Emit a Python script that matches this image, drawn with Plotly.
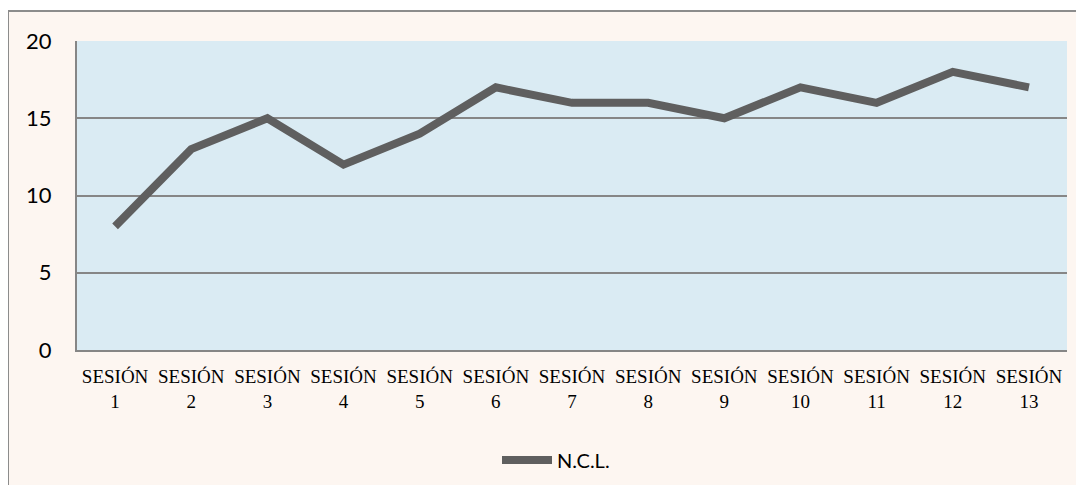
import plotly.graph_objects as go

categories = ["SESIÓN<br>1", "SESIÓN<br>2", "SESIÓN<br>3", "SESIÓN<br>4", "SESIÓN<br>5",
              "SESIÓN<br>6", "SESIÓN<br>7", "SESIÓN<br>8", "SESIÓN<br>9", "SESIÓN<br>10",
              "SESIÓN<br>11", "SESIÓN<br>12", "SESIÓN<br>13"]
ncl_values = [8, 13, 15, 12, 14, 17, 16, 16, 15, 17, 16, 18, 17]
y_ticks = [0, 5, 10, 15, 20]

W, H = 1084, 485
OFF = 8  # page body margin
# target page pixel positions of the plot area
PL, PR, PT, PB = 77, 1067, 41, 350
L, T = PL - OFF, PT - OFF
R = W - (PR - OFF)
B = H - (PB - OFF)
pw, ph = W - L - R, H - T - B

def px_x(x):
    return (x - OFF - L) / pw

def px_y(y):
    return (H - B - (y - OFF)) / ph

fig = go.Figure()
fig.add_trace(go.Scatter(
    x=categories, y=ncl_values, mode="lines", name="N.C.L.",
    line=dict(color="#5f5f5f", width=8),
))

bg = "#fdf6f1"
fig.update_layout(
    width=W, height=H,
    margin=dict(l=L, r=R, t=T, b=B),
    paper_bgcolor=bg,
    plot_bgcolor="#daebf3",
    showlegend=True,
    legend=dict(orientation="h", x=px_x(556), xanchor="center", y=px_y(460), yanchor="middle",
                itemwidth=50,
                font=dict(family="Lato, Liberation Sans, sans-serif", size=20, color="#000000"),
                bgcolor="rgba(0,0,0,0)"),
    xaxis=dict(type="category", range=[-0.5, 12.5], showgrid=False,
               showline=True, linecolor="#868686", linewidth=2,
               tickfont=dict(family="Liberation Serif, serif", size=19, color="#000000"),
               ticks="", ticklabelstandoff=8),
    yaxis=dict(range=[0, 20], tickvals=y_ticks, showgrid=True, gridcolor="#868686", gridwidth=2,
               zeroline=False, showline=True, linecolor="#868686", linewidth=2,
               tickfont=dict(family="Lato, Liberation Sans, sans-serif", size=22, color="#000000"),
               ticks="", ticklabelstandoff=19),
    shapes=[
        dict(type="rect", xref="paper", yref="paper", x0=-1, x1=px_x(8), y0=-1, y1=2,
             fillcolor="white", line=dict(width=0), layer="below"),
        dict(type="rect", xref="paper", yref="paper", x0=-1, x1=2, y0=px_y(11), y1=2,
             fillcolor="white", line=dict(width=0), layer="below"),
        dict(type="line", xref="paper", yref="paper", x0=px_x(8), x1=px_x(1100), y0=px_y(11), y1=px_y(11),
             line=dict(color="#8c8c8c", width=2)),
        dict(type="line", xref="paper", yref="paper", x0=px_x(8), x1=px_x(8), y0=px_y(11), y1=px_y(500),
             line=dict(color="#8c8c8c", width=2)),
    ],
)

fig.write_html("out.html")
